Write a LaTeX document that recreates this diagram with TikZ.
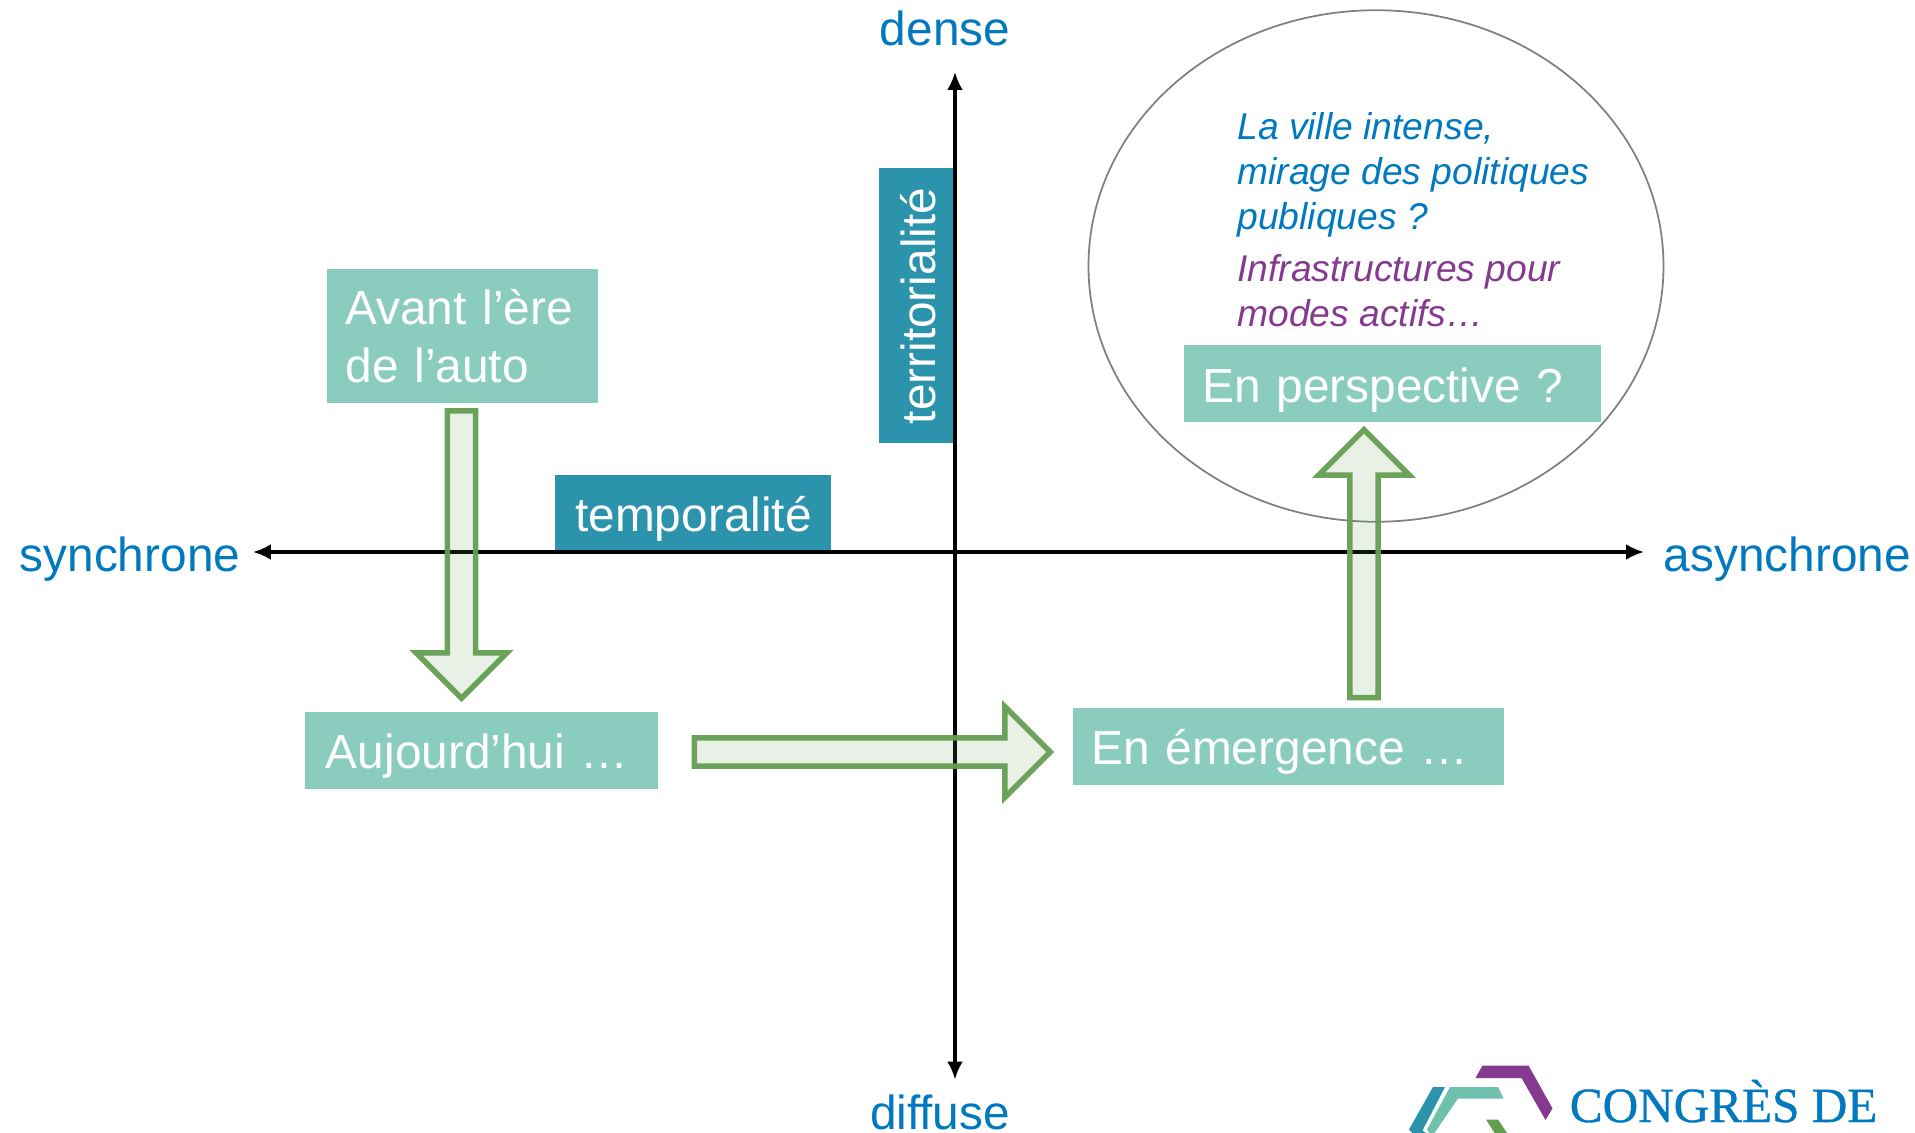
\documentclass[tikz,border=0pt]{standalone}
\usepackage{fontspec}
\setmainfont{Liberation Sans}
\newfontfamily\logofont[FakeBold=0.8]{Liberation Serif}
\usetikzlibrary{shapes,arrows,positioning,arrows.meta}
\definecolor{boxgreen}{HTML}{8ACCBD}
\definecolor{boxteal}{HTML}{2B93AB}
\definecolor{arrowgreen}{HTML}{629E50}
\definecolor{textblue}{HTML}{0079BF}
\definecolor{textpurple}{HTML}{853A8F}
\definecolor{logolight}{HTML}{6FC1AE}

\begin{document}
\begin{tikzpicture}[
    axis/.style={-{Latex[length=0.36cm,width=0.32cm]}, line width=0.065cm},
    pole/.style={font=\fontsize{27.2}{33}\selectfont, text=textblue, inner sep=0pt},
    era/.style={rectangle, fill=boxgreen, text=white, align=left, inner xsep=0.37cm, inner ysep=0pt, minimum height=1.54cm, font=\fontsize{27.2}{33.4}\selectfont},
    eraline/.style={era, text height=27pt, text depth=6pt},
    dimension/.style={rectangle, fill=boxteal, text=white, align=center, inner sep=0pt, minimum height=1.52cm, text height=27pt, text depth=6pt, font=\fontsize{27.2}{33}\selectfont},
    flowarrow/.style={single arrow, draw=arrowgreen, fill=arrowgreen, fill opacity=0.14, draw opacity=0.95, line width=0.11cm, single arrow tip angle=90, minimum width=1.82cm, single arrow head extend=0.5cm, inner xsep=0pt, inner ysep=0.17cm},
    note/.style={align=left, inner sep=0pt, font=\fontsize{21.2}{25.7}\selectfont\itshape}
]
\useasboundingbox (-19.1,-11.62) rectangle (19.2,11.04);

% Axes
\coordinate (center) at (0,0);
\coordinate (west) at (-14.04,0);
\coordinate (east) at (13.78,0);
\coordinate (north) at (0,9.6);
\coordinate (south) at (0,-10.55);

% Perspective circle
\node[ellipse, draw=gray, line width=0.035cm, minimum width=11.5cm, minimum height=10.23cm, inner sep=0pt] (horizon) at (8.42,5.72) {};

% Axis poles
\node[pole] (dense) at (-0.2,10.48) {dense};
\node[pole] (diffuse) at (-0.3,-11.2) {diffuse};
\node[pole] (synchrone) at (-16.5,-0.14) {synchrone};
\node[pole] (asynchrone) at (16.65,-0.14) {asynchrone};

% Axis names
\node[dimension, minimum width=5.52cm] (temporalite) at (-5.23,0.78) {temporalité};
\node[dimension, minimum width=5.5cm, rotate=90] (territorialite) at (-0.76,4.92) {territorialité};

% Eras
\node[era, minimum width=5.43cm, minimum height=2.68cm, text width=4.69cm] (avant) at (-9.845,4.32) {Avant l’ère\\de l’auto};
\node[eraline, minimum width=7.06cm, text width=6.22cm, below=6.16cm of avant, xshift=0.375cm] (aujourdhui) {Aujourd’hui …};
\node[eraline, minimum width=8.62cm, text width=7.88cm, right=8.28cm of aujourdhui, yshift=0.08cm] (emergence) {En émergence …};
\node[eraline, minimum width=8.34cm, text width=7.6cm, above=5.69cm of emergence, xshift=2.08cm] (perspective) {En perspective ?};

% Notes
\node[note, text=textblue, anchor=north west] (ville) at (5.64,8.8) {La ville intense,\\mirage des politiques\\publiques ?};
\node[note, text=textpurple, below=0.32cm of ville.south west, anchor=north west] (infra) {Infrastructures pour\\modes actifs…};

\draw[axis] (center) -- (west);
\draw[axis] (center) -- (east);
\draw[axis] (center) -- (north);
\draw[axis] (center) -- (south);

% Block arrows
\node[flowarrow, rotate=90, minimum height=5.36cm] (rise) at (8.18,-0.375) {};
\node[flowarrow, rotate=-90, minimum height=5.75cm] (fall) at (-9.87,0.09) {};
\node[flowarrow, minimum height=7.12cm] (advance) at (-1.795,-4) {};

% Logo
\fill[textpurple] (10.55,-10.27) -- (11.47,-10.27) -- (11.95,-11.13) -- (11.81,-11.36) -- (11.33,-10.52) -- (10.41,-10.52) -- cycle;
\fill[boxteal] (9.56,-10.7) -- (9.8,-10.7) -- (9.35,-11.57) -- (9.42,-11.62) -- (9.15,-11.62) -- (9.08,-11.55) -- cycle;
\fill[logolight] (9.9,-10.7) -- (10.86,-10.7) -- (10.97,-10.93) -- (10.06,-10.93) -- (9.59,-11.62) -- (9.49,-11.62) -- (9.44,-11.55) -- cycle;
\fill[arrowgreen] (10.62,-11.35) -- (10.86,-11.35) -- (11.04,-11.62) -- (10.79,-11.62) -- cycle;
\node[text=textblue, inner sep=0pt, font=\logofont\fontsize{28}{30}\selectfont, anchor=base west] (congres) at (12.29,-11.4) {CONGRÈS DE};
\end{tikzpicture}
\end{document}
